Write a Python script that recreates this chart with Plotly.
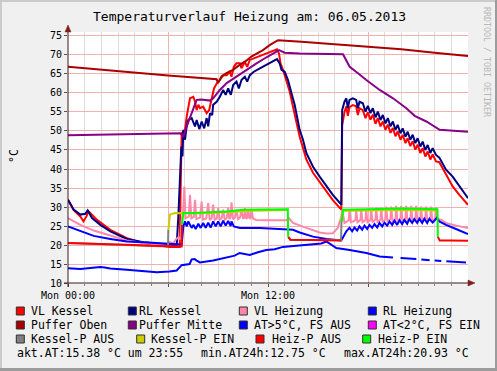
import plotly.graph_objects as go

FONT = "DejaVu Sans Mono"

# ---------------- data (hour of day, °C) ----------------
vl_kessel = [(0, 31.9), (0.34, 29.2), (0.74, 27.5), (0.93, 26.2), (1.13, 27.7), (1.2, 29.0), (1.74, 26.6),
             (2.54, 24.0), (3.53, 21.8), (4.53, 20.5), (6.08, 19.5), (6.70, 19.5), (6.76, 35.0), (6.82, 49.4),
             (7.02, 50.3), (7.12, 53.8), (7.32, 58.6), (7.52, 59.0), (7.62, 57.7), (7.72, 55.5), (7.82, 56.9),
             (7.92, 56.0), (8.11, 56.4), (8.32, 54.7), (8.47, 55.5), (8.62, 59.0), (8.76, 61.2), (8.92, 62.5),
             (9.11, 63.4), (9.31, 64.7), (9.52, 64.7), (9.71, 65.6), (9.81, 64.3), (9.95, 66.9), (10.11, 67.8),
             (10.31, 67.8), (10.41, 66.5), (10.61, 68.2), (10.75, 66.9), (10.91, 68.7), (11.31, 69.4),
             (11.71, 70.0), (12.11, 70.9), (12.54, 71.5), (12.66, 70.4), (12.75, 67.8), (12.90, 66.1),
             (13.11, 63.4), (13.30, 60.4), (13.50, 56.4), (13.70, 52.0), (13.90, 48.5), (14.10, 45.5),
             (14.30, 42.5), (14.70, 39.0), (15.10, 36.5), (15.50, 34.0), (15.89, 31.8), (16.40, 29.3),
             (16.45, 51.5), (16.59, 55.0), (16.70, 56.5), (16.79, 54.0), (16.89, 56.3), (17.09, 56.8),
             (17.29, 56.5), (17.39, 54.2), (17.49, 56.0), (17.69, 55.5), (17.85, 53.4), (17.99, 54.9),
             (18.15, 53.0), (18.29, 54.3), (18.45, 51.9), (18.59, 53.4), (18.75, 51.2), (18.89, 52.5),
             (19.05, 50.3), (19.19, 51.7), (19.35, 49.5), (19.49, 50.8), (19.65, 48.6), (19.78, 49.9),
             (19.95, 47.7), (20.08, 49.0), (20.25, 46.8), (20.38, 48.1), (20.54, 46.0), (20.68, 47.3),
             (20.84, 45.1), (20.98, 46.4), (21.14, 44.2), (21.28, 45.5), (21.44, 43.3), (21.58, 44.6),
             (21.74, 42.5), (21.88, 43.8), (22.08, 42.0), (22.28, 41.8), (22.68, 38.5), (23.08, 35.4),
             (23.48, 33.2), (23.88, 31.0), (24.0, 30.6)]

rl_kessel = [(0, 31.9), (0.34, 29.3), (0.74, 28.0), (1.04, 28.2), (1.18, 29.1), (1.44, 27.1), (1.94, 25.3),
             (2.54, 23.6), (3.53, 21.6), (4.53, 20.7), (6.08, 20.1), (6.52, 19.8), (6.62, 27.5), (6.72, 38.9),
             (6.80, 45.9), (6.87, 43.3), (6.92, 50.3), (7.02, 47.7), (7.12, 51.2), (7.22, 52.9), (7.42, 53.4),
             (7.62, 51.2), (7.72, 52.9), (7.88, 50.5), (8.02, 52.5), (8.17, 50.7), (8.32, 53.4), (8.41, 51.2),
             (8.52, 54.7), (8.65, 54.2), (8.71, 56.9), (8.92, 57.7), (9.11, 59.0), (9.31, 60.8), (9.46, 59.5),
             (9.61, 61.2), (9.77, 59.5), (9.91, 62.1), (10.11, 63.0), (10.25, 61.2), (10.41, 63.4),
             (10.61, 64.3), (10.75, 63.0), (10.91, 64.7), (11.15, 65.6), (11.51, 66.5), (11.91, 67.4),
             (12.30, 68.2), (12.54, 68.9), (12.70, 67.8), (12.81, 66.1), (13.0, 65.6), (13.20, 63.4),
             (13.41, 59.9), (13.60, 56.9), (13.90, 50.3), (14.10, 47.7), (14.30, 44.2), (14.70, 40.6),
             (15.10, 38.0), (15.50, 35.4), (15.89, 33.2), (16.40, 30.6), (16.45, 55.5), (16.59, 57.7),
             (16.70, 58.6), (16.79, 56.0), (16.89, 58.2), (17.09, 58.6), (17.29, 58.2), (17.39, 56.0),
             (17.49, 57.7), (17.69, 57.3), (17.85, 55.1), (17.99, 56.6), (18.15, 54.7), (18.29, 56.0),
             (18.45, 53.6), (18.59, 55.1), (18.75, 52.9), (18.89, 54.2), (19.05, 52.0), (19.19, 53.4),
             (19.35, 51.2), (19.49, 52.5), (19.65, 50.3), (19.78, 51.6), (19.95, 49.4), (20.08, 50.7),
             (20.25, 48.5), (20.38, 49.8), (20.54, 47.7), (20.68, 49.0), (20.84, 46.8), (20.98, 48.1),
             (21.14, 45.9), (21.28, 47.2), (21.44, 45.0), (21.58, 46.3), (21.74, 44.2), (21.88, 45.5),
             (22.08, 43.7), (22.28, 43.0), (22.68, 39.8), (23.08, 38.0), (23.48, 35.4), (23.88, 32.8),
             (24.0, 32.3)]

vl_heizung = [(0, 27.1), (0.74, 25.3), (1.54, 23.8), (2.54, 22.4), (3.53, 21.2), (4.53, 20.5), (5.5, 20.0),
              (6.0, 19.8), (6.1, 20.8), (6.3, 20.4), (6.5, 21.6), (6.62, 22.0), (6.75, 21.4), (6.82, 26.6),
              (6.9, 28.0), (6.98, 35.4), (7.05, 27.0), (7.25, 27.5), (7.32, 33.2), (7.4, 27.0), (7.55, 27.4),
              (7.62, 31.9), (7.7, 26.8), (7.92, 27.2), (8.02, 31.4), (8.1, 26.7), (8.3, 27.0), (8.41, 31.0),
              (8.5, 26.6), (8.62, 27.0), (8.71, 30.6), (8.8, 26.6), (8.93, 27.0), (9.01, 29.7), (9.1, 26.7),
              (9.22, 27.0), (9.31, 29.3), (9.4, 26.7), (9.52, 27.0), (9.61, 29.8), (9.68, 26.8), (9.75, 27.2),
              (9.81, 31.2), (9.9, 26.8), (10.02, 27.2), (10.11, 29.3), (10.2, 26.8), (10.32, 27.2),
              (10.41, 29.3), (10.5, 26.9), (10.58, 27.2), (10.61, 29.7), (10.7, 26.9), (10.76, 27.2),
              (10.81, 29.3), (10.9, 26.9), (10.96, 27.2), (11.01, 29.5), (11.1, 26.9), (11.3, 26.6),
              (12.0, 26.5), (13.1, 26.5), (13.25, 27.1), (13.5, 25.8), (14.3, 24.5), (15.1, 23.3),
              (15.5, 23.0), (15.89, 23.1), (16.19, 24.5), (16.40, 27.5), (16.45, 29.3), (16.59, 25.8),
              (16.75, 26.2), (16.84, 26.5), (16.89, 29.3), (16.97, 26.0), (17.15, 26.3), (17.25, 26.6),
              (17.29, 29.1), (17.37, 26.0), (17.5, 26.4), (17.55, 26.7), (17.59, 29.3), (17.67, 26.0),
              (17.8, 26.4), (17.85, 26.7), (17.89, 29.3), (17.97, 26.0), (18.1, 26.4), (18.15, 26.7),
              (18.19, 29.5), (18.27, 26.1), (18.4, 26.5), (18.45, 26.8), (18.49, 29.9), (18.57, 26.1),
              (18.7, 26.5), (18.75, 26.8), (18.79, 29.9), (18.87, 26.2), (19.0, 26.5), (19.05, 26.9),
              (19.09, 30.1), (19.17, 26.2), (19.3, 26.6), (19.35, 26.9), (19.39, 30.1), (19.47, 26.2),
              (19.6, 26.6), (19.65, 26.9), (19.69, 30.3), (19.77, 26.3), (19.9, 26.6), (19.95, 27.0),
              (19.99, 30.3), (20.07, 26.3), (20.2, 26.7), (20.25, 27.0), (20.29, 30.3), (20.37, 26.3),
              (20.5, 26.7), (20.55, 27.0), (20.59, 30.3), (20.67, 26.3), (20.8, 26.7), (20.85, 27.0),
              (20.89, 30.3), (20.97, 26.3), (21.1, 26.7), (21.14, 27.0), (21.18, 30.1), (21.26, 26.3),
              (21.4, 26.7), (21.44, 27.0), (21.48, 30.1), (21.56, 26.3), (21.7, 26.7), (21.74, 27.0),
              (21.78, 30.1), (21.86, 26.4), (22.0, 26.8), (22.04, 27.1), (22.08, 30.0), (22.16, 26.9),
              (22.4, 26.6), (22.68, 25.8), (23.3, 25.1), (23.88, 24.6), (24.0, 24.5)]

rl_heizung = [(0, 24.9), (0.74, 23.6), (1.54, 22.4), (2.54, 21.6), (3.53, 20.9), (4.53, 20.7), (6.08, 20.3),
              (6.52, 20.2), (6.82, 20.1), (6.92, 24.9), (7.02, 26.2), (7.12, 24.9), (7.22, 26.2), (7.42, 24.5),
              (7.52, 25.3), (7.66, 24.2), (7.82, 25.6), (7.96, 24.5), (8.11, 25.8), (8.26, 24.5), (8.41, 25.9),
              (8.56, 24.6), (8.71, 26.2), (8.86, 24.9), (9.01, 26.2), (9.16, 24.9), (9.31, 26.4), (9.46, 25.1),
              (9.61, 26.3), (9.76, 25.0), (9.81, 26.2), (9.95, 24.9), (10.31, 24.5), (11.51, 24.5),
              (13.11, 24.2), (13.50, 24.0), (13.90, 23.3), (14.70, 22.2), (15.50, 21.6), (16.40, 21.2),
              (16.70, 23.6), (16.89, 24.5), (17.05, 23.6), (17.19, 24.6), (17.35, 23.8), (17.49, 24.9),
              (17.65, 24.0), (17.79, 25.1), (17.95, 24.2), (18.09, 25.3), (18.25, 24.5), (18.39, 25.5),
              (18.55, 24.6), (18.69, 25.8), (18.85, 24.9), (18.99, 25.9), (19.15, 25.1), (19.29, 26.2),
              (19.45, 25.3), (19.59, 26.4), (19.75, 25.3), (19.89, 26.5), (20.05, 25.5), (20.18, 26.6),
              (20.35, 25.6), (20.48, 26.8), (20.65, 25.8), (20.78, 26.8), (20.95, 25.8), (21.08, 26.9),
              (21.25, 25.8), (21.38, 26.9), (21.55, 25.8), (21.68, 26.9), (21.88, 25.9), (22.12, 27.1),
              (22.28, 26.2), (22.68, 25.3), (23.28, 24.2), (23.88, 23.0), (24.0, 22.9)]

puffer_oben = [(0, 66.9), (1, 66.5), (2, 66.2), (3, 65.8), (4, 65.4), (5, 65.0), (6, 64.6), (7, 64.3),
               (8, 63.9), (8.92, 63.6), (9.0, 62.6), (9.1, 63.6), (9.2, 64.3), (9.5, 65.2), (9.9, 66.1),
               (10.3, 67.4), (10.7, 68.5), (11.0, 69.6), (11.3, 70.4), (11.7, 71.3), (12.1, 72.6),
               (12.6, 73.9), (14, 73.5), (16, 72.8), (18, 72.2), (20, 71.5), (22, 70.6), (24, 69.7)]

puffer_mitte = [(0, 48.9), (2, 49.1), (4, 49.3), (6, 49.5), (6.72, 49.4), (6.85, 48.9), (6.92, 48.4),
                (7.12, 51.2), (7.42, 54.7), (7.72, 58.2), (8.0, 58.3), (8.52, 58.0), (8.71, 58.6),
                (9.11, 60.8), (9.52, 62.6), (10.11, 64.3), (10.71, 66.2), (11.31, 67.8), (11.91, 69.4),
                (12.51, 70.9), (12.66, 71.3), (13.0, 70.6), (13.9, 70.4), (16.5, 70.2), (16.7, 68.7),
                (16.9, 66.9), (17.4, 65.2), (17.9, 63.4), (18.7, 60.8), (19.5, 58.6), (20.3, 56.0),
                (20.8, 54.0), (21.5, 52.5), (22.3, 50.3), (24, 49.8)]

at_fs_aus = [(0, 13.9), (0.74, 13.7), (1.5, 14.0), (1.94, 14.2), (2.2, 14.1), (2.54, 13.8), (3.53, 13.5),
             (4.53, 13.05), (5.33, 12.8), (6.08, 13.0), (6.52, 13.3), (6.82, 14.7), (7.12, 14.8), (7.3, 15.0),
             (7.42, 16.2), (7.6, 16.3), (7.72, 15.9), (7.92, 15.4), (8.71, 15.9), (9.5, 16.6), (10.0, 17.2),
             (10.3, 17.9), (10.6, 17.6), (10.9, 17.4), (11.4, 18.1), (11.9, 18.7), (12.4, 18.9), (12.9, 19.5),
             (13.7, 19.8), (14.7, 20.1), (15.2, 20.4), (15.5, 20.93), (15.7, 20.3), (16.1, 19.2),
             (16.9, 18.7), (17.9, 17.9), (18.7, 17.0), (19.5, 16.7), (19.75, None), (19.95, 16.6),
             (20.3, 16.5), (20.9, 16.3), (21.05, None), (21.2, 16.2), (21.7, 16.0), (21.85, None),
             (22.0, 15.9), (22.4, 15.8), (22.55, None), (22.7, 15.7), (23.3, 15.5), (23.88, 15.38)]

at_fs_ein = []

kessel_p_aus = [(0, 20.5), (3, 20.1), (6.0, 19.6), (6.02, 24.0), (6.1, None), (13.22, 22.0), (13.35, 21.3),
                (16.38, 21.3), (16.41, 26.2)]

kessel_p_ein = [(6.02, 24.0), (6.12, 28.0), (6.42, 28.4), (6.82, 28.4), (7.5, 28.3), (9, 28.5), (11, 29.0),
                (13.18, 29.2), (13.2, None), (16.41, 26.2), (16.5, 29.0), (18, 29.1), (20, 29.2), (22.1, 29.1)]

heiz_p_aus = [(0, 20.5), (1, 20.4), (2, 20.3), (3, 20.1), (4, 20.0), (5, 19.8), (6, 19.7), (6.82, 19.6),
              (6.84, 25.3), (6.9, None), (13.21, 22.2), (13.35, 21.4), (14.5, 21.3), (16.38, 21.2),
              (16.4, None), (22.19, 22.2), (22.3, 21.2), (23, 21.2), (24, 21.1)]

heiz_p_ein = [(6.84, 25.3), (6.92, 28.4), (7.5, 28.4), (8.41, 28.6), (9.5, 28.8), (10.5, 29.3), (11.5, 29.4),
              (13.19, 29.4), (13.21, 22.2), (13.3, None), (16.42, 26.0), (16.5, 29.3), (18.0, 29.4),
              (20.0, 29.6), (21.5, 29.5), (22.17, 29.4), (22.19, 22.2)]

legend_labels = ["VL Kessel", "RL Kessel", "VL Heizung", "RL Heizung",
                 "Puffer Oben", "Puffer Mitte", "AT&gt;5°C, FS AUS", "AT&lt;2°C, FS EIN",
                 "Kessel-P AUS", "Kessel-P EIN", "Heiz-P AUS", "Heiz-P EIN"]
legend_colors = ["#ff0000", "#000080", "#ff88aa", "#0000ff",
                 "#aa0000", "#880088", "#0000ff", "#ff00ff",
                 "#808080", "#cccc00", "#ff0000", "#00ff00"]
series = [vl_kessel, rl_kessel, vl_heizung, rl_heizung, puffer_oben, puffer_mitte,
          at_fs_aus, at_fs_ein, kessel_p_aus, kessel_p_ein, heiz_p_aus, heiz_p_ein]

x_tick_vals = [0, 6, 12, 18]
x_tick_text = ["Mon 00:00", "", "Mon 12:00", ""]
stats_text = ["akt.AT:15.38 °C um 23:55", "min.AT24h:12.75 °C", "max.AT24h:20.93 °C"]
title_text = "Temperaturverlauf Heizung am: 06.05.2013"

# ---------------- figure ----------------
W, H = 497, 371
L, R, T, B = 68, 29, 32, 88
PW, PH = W - L - R, H - T - B


def px(x):
    return (x - L) / PW


def py(y):
    return (T + PH - y) / PH


fig = go.Figure()
for name, data, col in zip(legend_labels, series, legend_colors):
    if not data:
        continue
    fig.add_trace(go.Scatter(x=[p[0] for p in data], y=[p[1] for p in data], mode="lines",
                             name=name, line=dict(color=col, width=2), connectgaps=False,
                             hoverinfo="skip", showlegend=False))

fig.update_layout(
    width=W, height=H, margin=dict(l=L, r=R, t=T, b=B, pad=0),
    paper_bgcolor="#f0f0f0", plot_bgcolor="#ffffff", showlegend=False,
    font=dict(family=FONT, color="#000000"),
)
fig.update_xaxes(range=[0, 24], tickvals=x_tick_vals, ticktext=x_tick_text,
                 showgrid=True, gridcolor="#f3b0b0", gridwidth=1, zeroline=False, showline=False,
                 ticks="outside", ticklen=3, tickcolor="#505050",
                 minor=dict(dtick=1, tick0=0, showgrid=True, gridcolor="#dcdcdc", ticks="outside",
                            ticklen=2, tickcolor="#808080"),
                 tickfont=dict(family=FONT, size=10, color="#000000"))
fig.update_yaxes(range=[10, 76.05], tick0=10, dtick=5, showgrid=True, gridcolor="#f3b0b0", gridwidth=1,
                 zeroline=False, showline=False, ticks="outside", ticklen=3, tickcolor="#505050",
                 tickfont=dict(family=FONT, size=10, color="#000000"))

shapes = []
# frame
shapes.append(dict(type="rect", xref="paper", yref="paper", x0=px(0), x1=px(2), y0=py(H), y1=py(0),
                   fillcolor="#cbcbcb", line=dict(width=0), layer="below"))
shapes.append(dict(type="rect", xref="paper", yref="paper", x0=px(0), x1=px(W), y0=py(2), y1=py(0),
                   fillcolor="#cbcbcb", line=dict(width=0), layer="below"))
shapes.append(dict(type="rect", xref="paper", yref="paper", x0=px(W - 2), x1=px(W), y0=py(H), y1=py(0),
                   fillcolor="#9c9c9c", line=dict(width=0), layer="below"))
shapes.append(dict(type="rect", xref="paper", yref="paper", x0=px(0), x1=px(W), y0=py(H), y1=py(H - 3),
                   fillcolor="#9c9c9c", line=dict(width=0), layer="below"))
# axes
AX = "#3a1a1a"
AR = "#7f1f1f"
shapes.append(dict(type="line", xref="paper", yref="paper", x0=px(64), x1=px(470), y0=0, y1=0,
                   line=dict(color=AX, width=1), layer="above"))
shapes.append(dict(type="line", xref="paper", yref="paper", x0=0, x1=0, y0=py(287), y1=py(30),
                   line=dict(color=AX, width=1), layer="above"))
shapes.append(dict(type="path", xref="paper", yref="paper",
                   path=f"M {px(468)} {py(280)} L {px(475)} {py(283)} L {px(468)} {py(286)} Z",
                   fillcolor=AR, line=dict(color=AR, width=0.5), layer="above"))
shapes.append(dict(type="path", xref="paper", yref="paper",
                   path=f"M {px(65)} {py(32)} L {px(68)} {py(25)} L {px(71)} {py(32)} Z",
                   fillcolor=AR, line=dict(color=AR, width=0.5), layer="above"))

annotations = []
annotations.append(dict(text=title_text, xref="paper", yref="paper", x=px(249), y=py(16.5),
                        xanchor="center", yanchor="middle", showarrow=False,
                        font=dict(family=FONT, size=13, color="#000000")))
annotations.append(dict(text="°C", xref="paper", yref="paper", x=px(14), y=py(156), textangle=-90,
                        xanchor="center", yanchor="middle", showarrow=False,
                        font=dict(family=FONT, size=11.5, color="#000000")))
annotations.append(dict(text="RRDTOOL / TOBI OETIKER", xref="paper", yref="paper", x=px(487), y=py(62),
                        textangle=90, xanchor="center", yanchor="middle", showarrow=False,
                        font=dict(family=FONT, size=8.3, color="#b8b8b8")))

# legend (rrdtool style)
sq_x = [16.3, 128.3, 239.3, 368.3, 16.3, 128.3, 239.3, 368.3, 16.3, 136.7, 256.0, 362.7]
tx_x = [30.0, 138.3, 253.0, 381.7, 30.0, 138.3, 253.0, 381.7, 30.0, 150.0, 270.7, 376.7]
row_y = [311, 311, 311, 311, 325, 325, 325, 325, 339, 339, 339, 339]
for lab, col, sx, tx, ry in zip(legend_labels, legend_colors, sq_x, tx_x, row_y):
    shapes.append(dict(type="rect", xref="paper", yref="paper", x0=px(sx), x1=px(sx + 8),
                       y0=py(ry + 4), y1=py(ry - 4), fillcolor=col, line=dict(color="#303030", width=1)))
    annotations.append(dict(text=lab, xref="paper", yref="paper", x=px(tx), y=py(ry), xanchor="left",
                            yanchor="middle", showarrow=False, borderpad=0,
                            font=dict(family=FONT, size=11.5, color="#000000")))
for txt, sx in zip(stats_text, [16.3, 200.0, 342.7]):
    annotations.append(dict(text=txt, xref="paper", yref="paper", x=px(sx), y=py(353), xanchor="left",
                            yanchor="middle", showarrow=False, borderpad=0,
                            font=dict(family=FONT, size=11.5, color="#000000")))

fig.update_layout(shapes=shapes, annotations=annotations)
fig.write_html("out.html", config={"displayModeBar": False},
               post_script="document.body.style.margin='0';document.body.style.overflow='hidden';")
